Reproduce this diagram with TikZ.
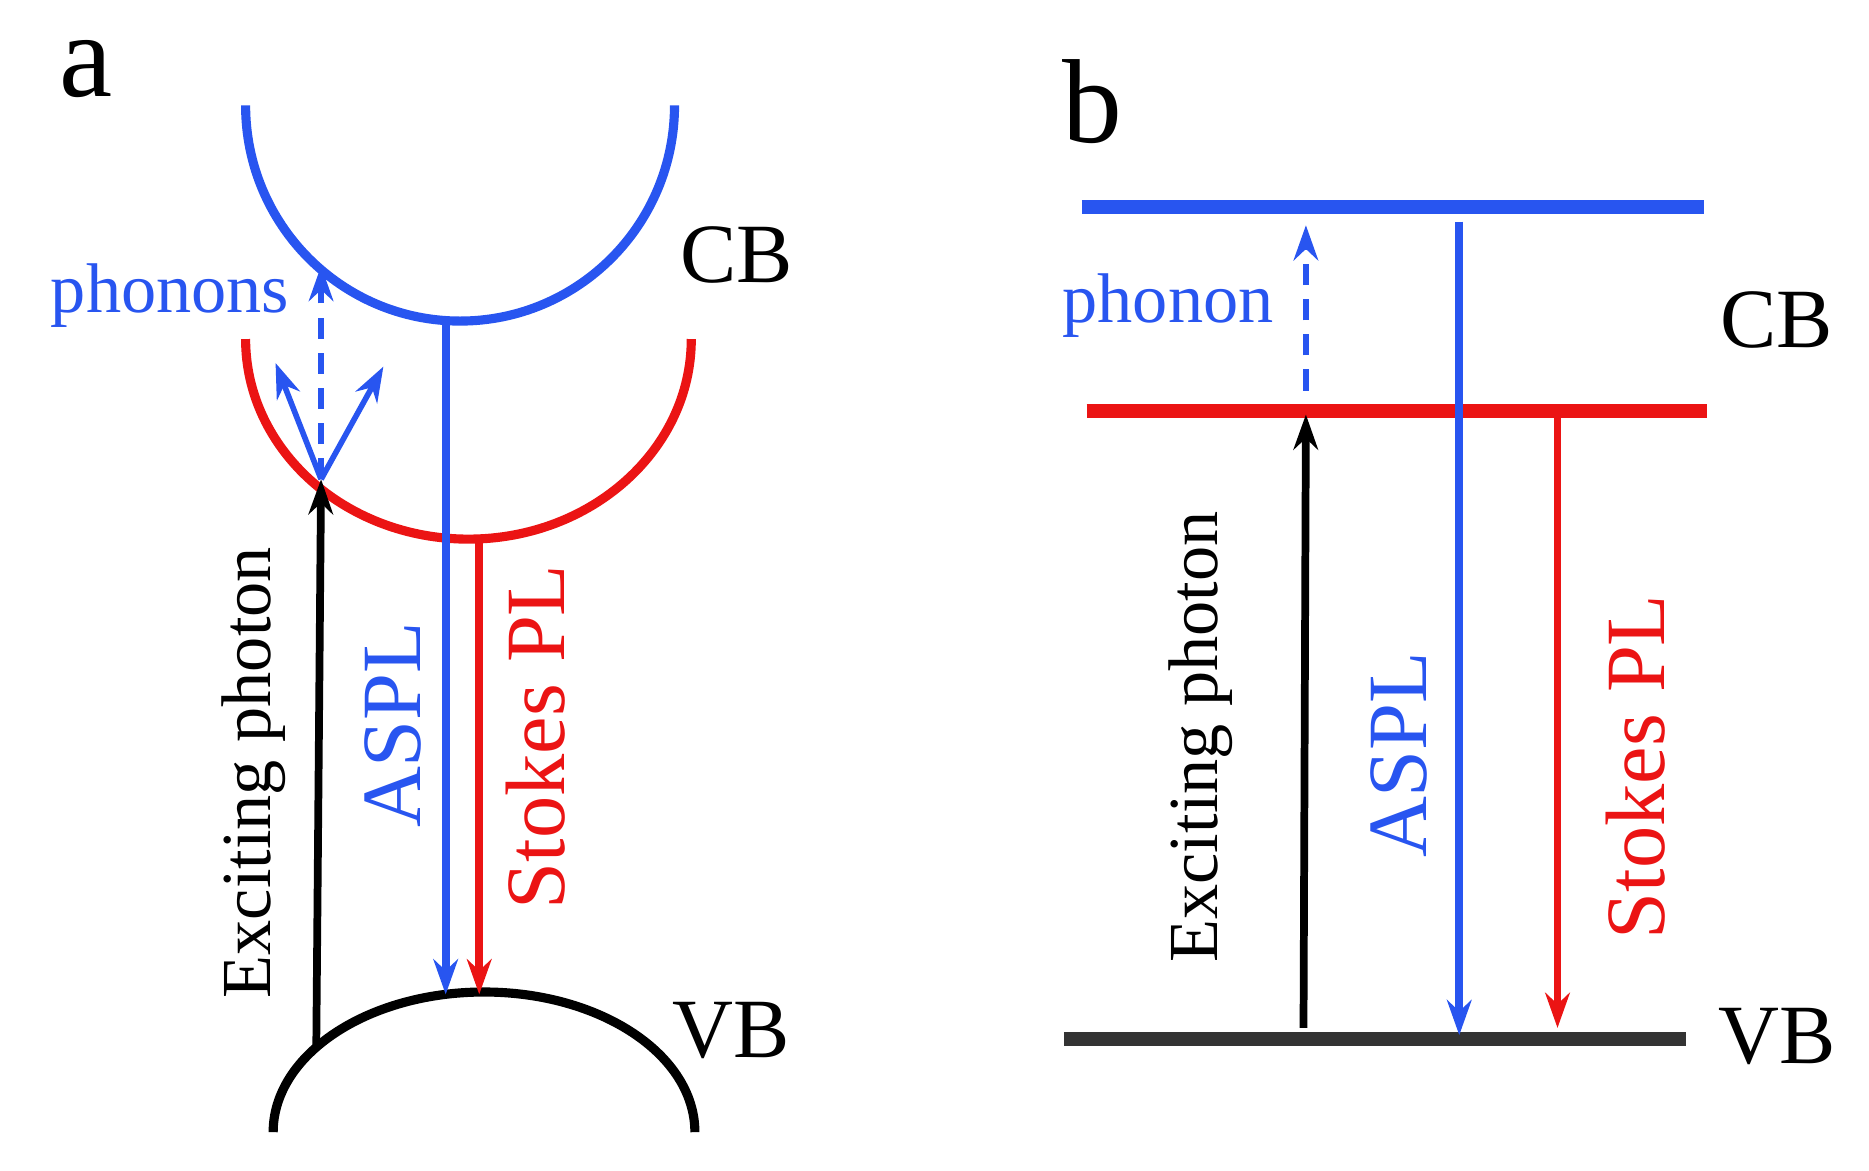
\documentclass[tikz,border=0pt]{standalone}
\usepackage{fontspec}
\setmainfont{Liberation Serif}
\usetikzlibrary{arrows.meta}
\definecolor{bblue}{RGB}{40,85,240}
\definecolor{rred}{RGB}{235,20,20}
\begin{document}
\begin{tikzpicture}[x=0.01198cm,y=-0.01198cm,
  lbl/.style={font=\fontsize{20}{24}\selectfont},
  big/.style={font=\fontsize{24}{28}\selectfont},
  pan/.style={font=\fontsize{34}{40}\selectfont},
  arr/.style={line width=2.2pt,-{Stealth[length=10pt,width=7pt]}},
  band/.style={line width=2.6pt},
  lev/.style={line width=4pt},
  dsh/.style={dash pattern=on 6pt off 4pt}]
\useasboundingbox (0,0) rectangle (1560,977);
% panel a
\node[pan] (pa) at (72,58) {a};
\draw[band,bblue] (205,88) arc[start angle=180,end angle=0,x radius=179,y radius=180];
\draw[band,rred] (205,283) arc[start angle=180,end angle=0,x radius=186,y radius=167];
\draw[band,black] (228,945) arc[start angle=180,end angle=360,x radius=176,y radius=117];
\node[big] (cba) at (615,213) {CB};
\node[big] (vba) at (610,860) {VB};
\coordinate (ea0) at (264,872);
\coordinate (ea1) at (268,400);
\coordinate (pl) at (230,303);
\coordinate (pr) at (320,306);
\coordinate (pu) at (268,222);
\coordinate (ba0) at (372,268);
\coordinate (ba1) at (372,830);
\coordinate (ra0) at (400,450);
\coordinate (ra1) at (400,830);
\draw[arr,black] (ea0) -- (ea1);
\draw[arr,bblue,line width=1.6pt] (ea1) -- (pl);
\draw[arr,bblue,line width=1.6pt] (ea1) -- (pr);
\draw[arr,bblue,line width=1.6pt,dsh] (ea1) -- (pu);
\draw[arr,bblue] (ba0) -- (ba1);
\draw[arr,rred] (ra0) -- (ra1);
\node[lbl,text=bblue] (pha) at (142,247) {phonons};
\node[lbl,rotate=90] (exa) at (212,645) {Exciting photon};
\node[big,rotate=90,text=bblue] (asa) at (328,605) {ASPL};
\node[big,rotate=90,text=rred] (sta) at (447,615) {Stokes PL};
% panel b
\node[pan] (pb) at (912,85) {b};
\draw[lev,bblue] (903,173) coordinate (cbl) -- (1422,173) coordinate (cbr);
\draw[lev,rred] (907,343) coordinate (rl) -- (1425,343) coordinate (rr);
\draw[lev,black!80] (888,867) coordinate (vl) -- (1407,867) coordinate (vr);
\node[big] (cbb) at (1483,267) {CB};
\node[big] (vbb) at (1483,865) {VB};
\node[lbl,text=bblue] (phb) at (975,255) {phonon};
\coordinate (d0) at (1090,326);
\coordinate (d1) at (1090,188);
\coordinate (e0) at (1088,858);
\coordinate (e1) at (1090,346);
\coordinate (b0) at (1218,185);
\coordinate (b1) at (1218,864);
\coordinate (r0) at (1300,346);
\coordinate (r1) at (1300,858);
\draw[arr,bblue,line width=1.6pt,dsh] (d0) -- (d1);
\draw[arr,black] (e0) -- (e1);
\draw[arr,bblue] (b0) -- (b1);
\draw[arr,rred] (r0) -- (r1);
\node[lbl,rotate=90] (exb) at (1002,615) {Exciting photon};
\node[big,rotate=90,text=bblue] (asb) at (1168,630) {ASPL};
\node[big,rotate=90,text=rred] (stb) at (1365,640) {Stokes PL};
\end{tikzpicture}
\end{document}
